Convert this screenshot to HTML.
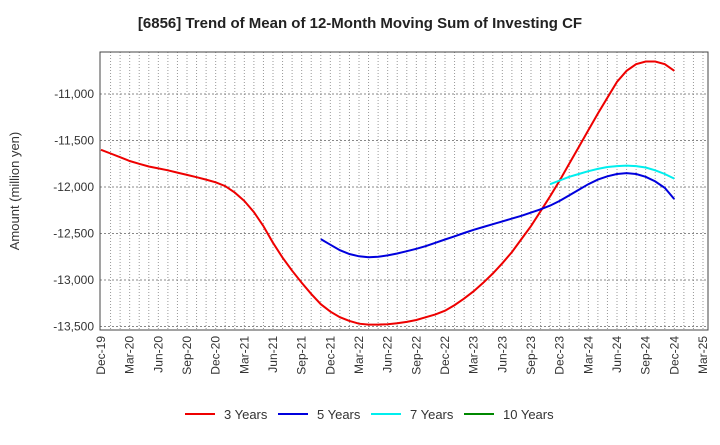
<!DOCTYPE html>
<html><head><meta charset="utf-8"><style>
body{margin:0;background:#fff;font-family:"Liberation Sans",sans-serif}
svg text{font-family:"Liberation Sans",sans-serif}
</style></head><body>
<svg id="chart" width="720" height="440" xmlns="http://www.w3.org/2000/svg">
<text x="360" y="28" text-anchor="middle" font-size="15" font-weight="bold" fill="#222">[6856]  Trend of Mean of 12-Month Moving Sum of Investing CF</text>
<text transform="translate(19,191) rotate(-90)" text-anchor="middle" font-size="13" fill="#333">Amount (million yen)</text>
<g id="grid"></g><g id="axes"></g><g id="series"></g><g id="legend"></g>
<rect x="100" y="52" width="608" height="278" fill="none" stroke="#444" stroke-width="1"/>
</svg>
<script>
const xLabels=["Dec-19","Mar-20","Jun-20","Sep-20","Dec-20","Mar-21","Jun-21","Sep-21","Dec-21","Mar-22","Jun-22","Sep-22","Dec-22","Mar-23","Jun-23","Sep-23","Dec-23","Mar-24","Jun-24","Sep-24","Dec-24","Mar-25"];
const yTicks=[-11000,-11500,-12000,-12500,-13000,-13500];
const red=[-11600,-11640,-11680,-11720,-11750,-11780,-11800,-11820,-11845,-11870,-11895,-11920,-11950,-11990,-12060,-12150,-12270,-12420,-12600,-12760,-12900,-13030,-13150,-13260,-13340,-13400,-13440,-13470,-13480,-13480,-13475,-13465,-13450,-13430,-13400,-13370,-13330,-13270,-13200,-13120,-13030,-12930,-12820,-12700,-12560,-12420,-12260,-12100,-11930,-11750,-11570,-11390,-11210,-11040,-10870,-10750,-10680,-10650,-10650,-10680,-10750];
const blueStart=23;
const blue=[-12560,-12620,-12680,-12720,-12745,-12755,-12750,-12735,-12715,-12690,-12665,-12635,-12600,-12565,-12530,-12495,-12460,-12430,-12400,-12370,-12340,-12310,-12275,-12240,-12200,-12150,-12090,-12030,-11970,-11920,-11885,-11860,-11850,-11860,-11890,-11940,-12010,-12130];
const cyanStart=47;
const cyan=[-11970,-11930,-11890,-11860,-11830,-11805,-11785,-11775,-11770,-11775,-11790,-11820,-11860,-11910];
const green=[];
const legendNames=["3 Years","5 Years","7 Years","10 Years"];
const legendColors=["#e00","#00d","#0ee","#080"];
const NS="http://www.w3.org/2000/svg";
const X=m=>101+m*(602/63);
const Y=v=>94-(v+11000)*(46.5/500);
function mk(tag,attrs,parent){const e=document.createElementNS(NS,tag);for(const k in attrs)e.setAttribute(k,attrs[k]);parent.appendChild(e);return e;}
const grid=document.getElementById('grid'),axes=document.getElementById('axes'),ser=document.getElementById('series'),leg=document.getElementById('legend');
for(let m=1;m<=63;m++){const l=mk('line',{x1:X(m),x2:X(m),y1:52,y2:330,stroke:'#999','stroke-dasharray':'1,2','stroke-width':1},grid);

}
yTicks.forEach(v=>{const l=mk('line',{x1:100,x2:708,y1:Y(v),y2:Y(v),stroke:'#888','stroke-dasharray':'2,2','stroke-width':1},grid);


const t=mk('text',{x:94,y:Y(v)+4,'text-anchor':'end','font-size':12,fill:'#333'},axes);t.textContent=v.toLocaleString('en-US');

});
xLabels.forEach((s,i)=>{const x=X(i*3);const t=mk('text',{transform:`translate(${x+4},336) rotate(-90)`,'text-anchor':'end','font-size':12,fill:'#333'},axes);t.textContent=s;

});
function line(data,start,color,name){if(!data.length)return;const p=mk('path',{d:data.map((v,i)=>(i?'L':'M')+X(start+i).toFixed(1)+','+Y(v).toFixed(1)).join(''),fill:'none',stroke:color,'stroke-width':2},ser);

}
line(red,0,'#e00','line-3-years');line(blue,blueStart,'#00d','line-5-years');line(cyan,cyanStart,'#0ee','line-7-years');line(green,0,'#080','line-10-years');
const lx=[185,278,371,464];
legendNames.forEach((n,i)=>{const g=mk('g',{},leg);


mk('line',{x1:lx[i],x2:lx[i]+30,y1:414,y2:414,stroke:legendColors[i],'stroke-width':2},g);
const t=mk('text',{x:lx[i]+39,y:419,'font-size':13,fill:'#333'},g);t.textContent=n;});
</script>
</body></html>
